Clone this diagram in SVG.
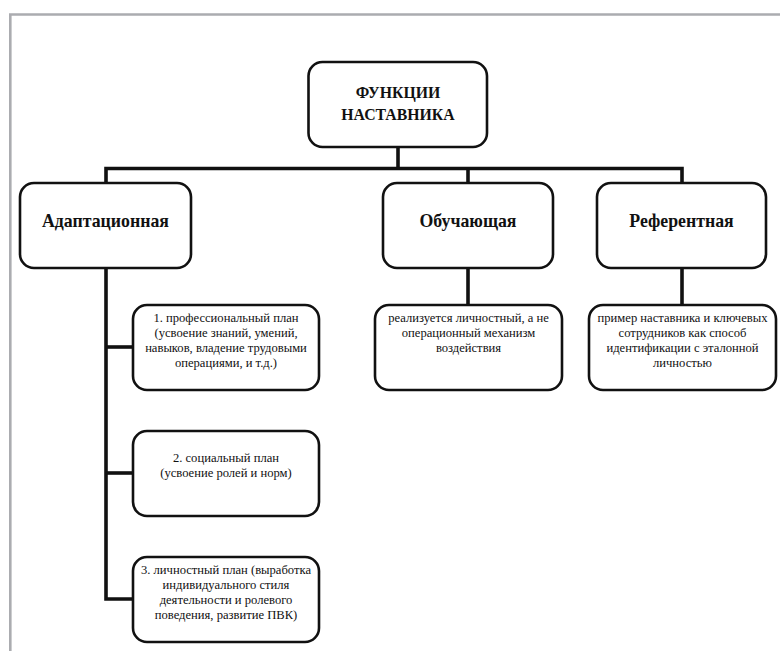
<svg xmlns="http://www.w3.org/2000/svg" width="780" height="651" viewBox="0 0 780 651" font-family="Liberation Serif, DejaVu Serif, Times New Roman, serif">
<style>
.box{fill:#fff;stroke:#111;stroke-width:2.6}
.conn{fill:none;stroke:#111;stroke-width:3.6;stroke-linejoin:miter}
.frame{fill:none;stroke:#abacb0;stroke-width:2.6}
.ttl{font-weight:bold;font-size:15.8px;fill:#111;text-anchor:middle}
.h{font-weight:bold;font-size:17.8px;fill:#111;text-anchor:middle}
.t{font-size:12.6px;fill:#111;text-anchor:middle}
</style>
<rect width="780" height="651" fill="#fff"/>
<path class="frame" d="M10.3,651 V14.5 H780"/>
<g id="connectors">
<path class="conn" d="M398,147 V168.5"/>
<path class="conn" d="M106,183 V168.5 H682 V183"/>
<path class="conn" d="M468,168.5 V183"/>
<path class="conn" d="M106,268 V599 H133"/>
<path class="conn" d="M106,347 H133"/>
<path class="conn" d="M106,473 H133"/>
<path class="conn" d="M468,268 V305"/>
<path class="conn" d="M682,268 V305"/>
</g>
<g id="root">
<rect class="box" x="308.5" y="62" width="178.5" height="85" rx="14"/>
<text class="ttl" x="398" y="98">ФУНКЦИИ</text>
<text class="ttl" x="398" y="119.5">НАСТАВНИКА</text>
</g>
<g id="adapt">
<rect class="box" x="20" y="183" width="171" height="85" rx="14"/>
<text class="h" x="105.5" y="227">Адаптационная</text>
</g>
<g id="obuch">
<rect class="box" x="383" y="183" width="170" height="85" rx="14"/>
<text class="h" x="468" y="227">Обучающая</text>
</g>
<g id="refer">
<rect class="box" x="597" y="183" width="169" height="85" rx="14"/>
<text class="h" x="681.5" y="227">Референтная</text>
</g>
<g id="plan1">
<rect class="box" x="133" y="305" width="186" height="85" rx="14"/>
<text class="t" x="226" y="322">1. профессиональный план</text>
<text class="t" x="226" y="337">(усвоение знаний, умений,</text>
<text class="t" x="226" y="352">навыков, владение трудовыми</text>
<text class="t" x="226" y="367">операциями, и т.д.)</text>
</g>
<g id="plan2">
<rect class="box" x="133" y="431" width="186" height="85" rx="14"/>
<text class="t" x="226" y="462">2. социальный план</text>
<text class="t" x="226" y="477">(усвоение ролей и норм)</text>
</g>
<g id="plan3">
<rect class="box" x="133" y="557" width="186" height="85" rx="14"/>
<text class="t" x="226" y="574">3. личностный план (выработка</text>
<text class="t" x="226" y="589">индивидуального стиля</text>
<text class="t" x="226" y="604">деятельности и ролевого</text>
<text class="t" x="226" y="619">поведения, развитие ПВК)</text>
</g>
<g id="obuch-desc">
<rect class="box" x="375" y="305" width="187" height="85" rx="14"/>
<text class="t" x="468.5" y="322">реализуется личностный, а не</text>
<text class="t" x="468.5" y="337">операционный механизм</text>
<text class="t" x="468.5" y="352">воздействия</text>
</g>
<g id="refer-desc">
<rect class="box" x="589" y="305" width="187" height="85" rx="14"/>
<text class="t" x="682.5" y="322">пример наставника и ключевых</text>
<text class="t" x="682.5" y="337">сотрудников как способ</text>
<text class="t" x="682.5" y="352">идентификации с эталонной</text>
<text class="t" x="682.5" y="367">личностью</text>
</g>
</svg>
